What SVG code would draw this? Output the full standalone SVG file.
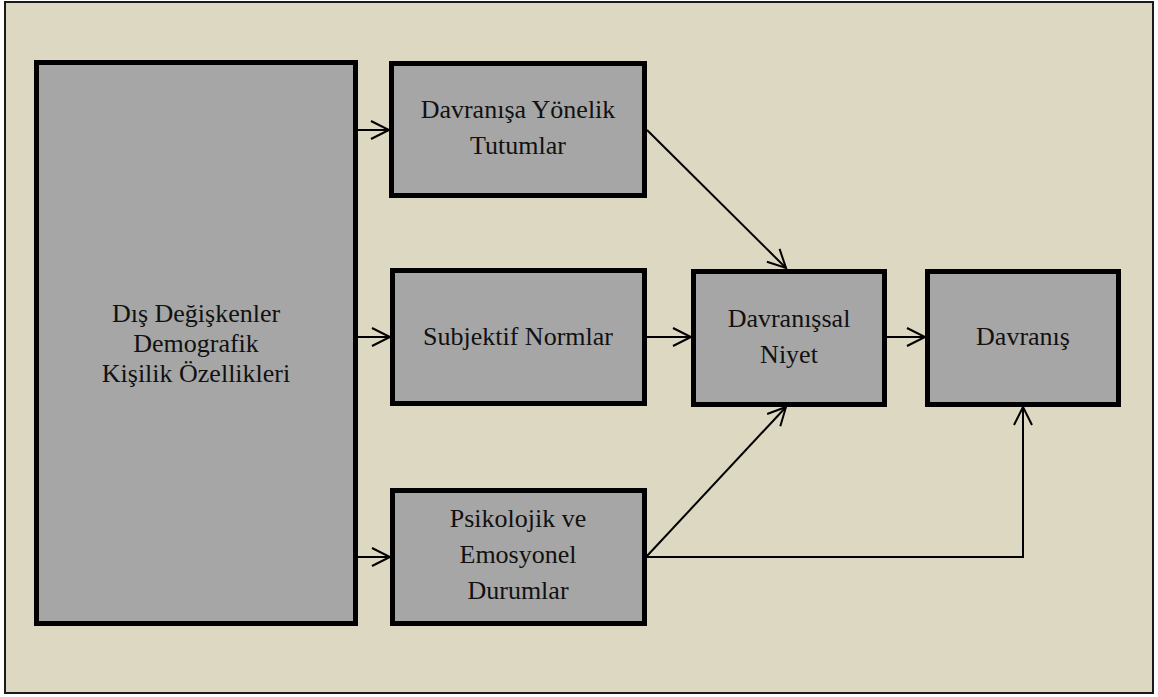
<svg xmlns="http://www.w3.org/2000/svg" width="1158" height="697" viewBox="0 0 1158 697">
  <style>
    .box { fill: #A6A6A6; stroke: #000; stroke-width: 5; }
    .lbl { font-size: 26px; fill: #111; text-anchor: middle; }
    .wire { fill: none; stroke: #000; stroke-width: 2; }
  </style>
  <defs>
    <marker id="arrow" markerUnits="userSpaceOnUse" viewBox="-20 -11 22 22" refX="0" refY="0" markerWidth="22" markerHeight="22" orient="auto" overflow="visible">
      <path d="M-18,-9 L0,0 L-18,9" fill="none" stroke="#000" stroke-width="2"/>
    </marker>
  </defs>

  <rect width="1158" height="697" fill="#FFFFFF"/>
  <!-- frame -->
  <rect x="5" y="2" width="1148" height="691" fill="#DDD8C2" stroke="#1a1a1a" stroke-width="2"/>

  <!-- connectors -->
  <g id="connectors" class="wire" marker-end="url(#arrow)">
    <line x1="358" y1="130" x2="389" y2="130"/>
    <line x1="358" y1="337" x2="390" y2="337"/>
    <line x1="358" y1="557" x2="390" y2="557"/>
    <line x1="647" y1="130" x2="786" y2="268"/>
    <line x1="647" y1="337" x2="691" y2="337"/>
    <line x1="887" y1="337" x2="925" y2="337"/>
    <line x1="647" y1="556" x2="786" y2="407"/>
    <polyline points="647,557 1023,557 1023,407"/>
  </g>

  <g font-family="Liberation Serif, DejaVu Serif, serif">
    <g id="dis-degiskenler">
      <rect class="box" x="36.5" y="62.5" width="319" height="561"/>
      <text class="lbl" x="196" y="322">Dış Değişkenler</text>
      <text class="lbl" x="196" y="352">Demografik</text>
      <text class="lbl" x="196" y="382">Kişilik Özellikleri</text>
    </g>

    <g id="tutumlar">
      <rect class="box" x="391.5" y="63.5" width="253" height="132"/>
      <text class="lbl" x="518" y="118">Davranışa Yönelik</text>
      <text class="lbl" x="518" y="154">Tutumlar</text>
    </g>

    <g id="subjektif-normlar">
      <rect class="box" x="392.5" y="270.5" width="252" height="133"/>
      <text class="lbl" x="518" y="345">Subjektif Normlar</text>
    </g>

    <g id="psikolojik">
      <rect class="box" x="392.5" y="490.5" width="252" height="133"/>
      <text class="lbl" x="518" y="527">Psikolojik ve</text>
      <text class="lbl" x="518" y="563">Emosyonel</text>
      <text class="lbl" x="518" y="599">Durumlar</text>
    </g>

    <g id="davranissal-niyet">
      <rect class="box" x="693.5" y="271.5" width="191" height="133"/>
      <text class="lbl" x="789" y="327">Davranışsal</text>
      <text class="lbl" x="789" y="363">Niyet</text>
    </g>

    <g id="davranis">
      <rect class="box" x="927.5" y="271.5" width="191" height="133"/>
      <text class="lbl" x="1023" y="345">Davranış</text>
    </g>
  </g>
</svg>
